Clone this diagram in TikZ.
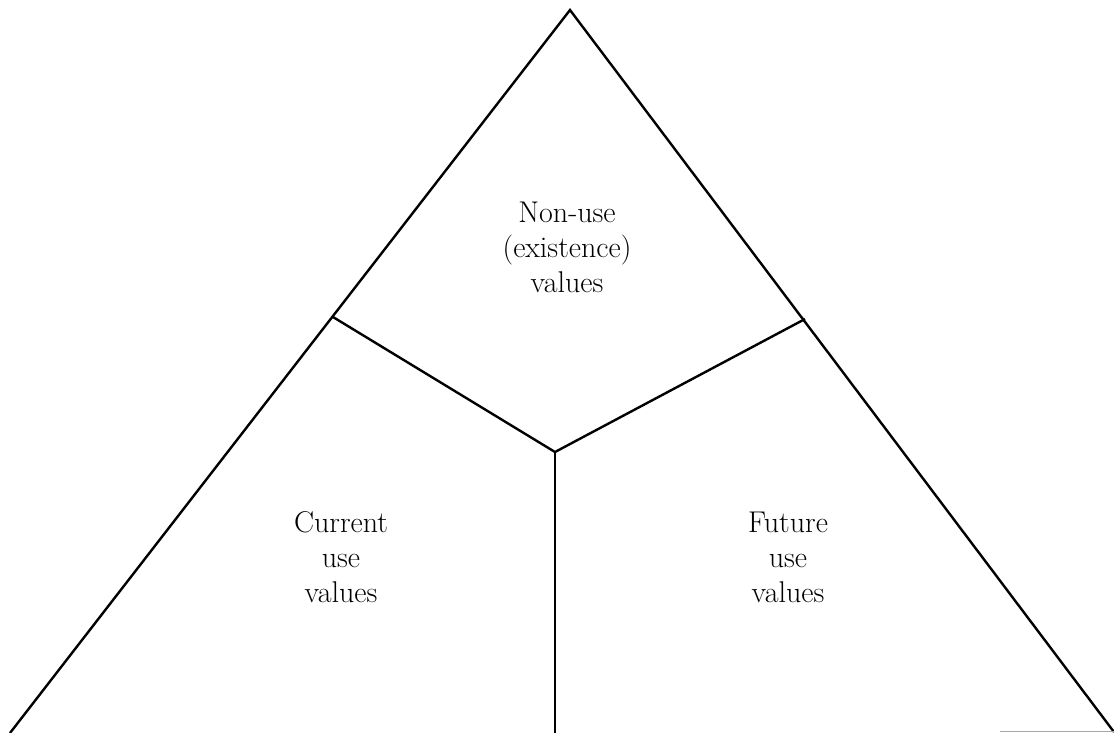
\documentclass[tikz,border=0pt]{standalone}
\begin{document}
\begin{tikzpicture}[x=1pt,y=-1pt,
  edge/.style={line width=2.4pt,line join=miter,black},
  lbl/.style={align=center,font=\fontsize{30}{35}\selectfont,inner sep=0pt}]
\useasboundingbox (0,0) rectangle (1114,732);
\coordinate (apex) at (570,10);
\coordinate (bl) at (10,733);
\coordinate (br) at (1114,732);
\coordinate (lj) at (333,317);
\coordinate (rj) at (805,319);
\coordinate (cj) at (555,452);
\coordinate (cb) at (555,733);
\draw[edge] (bl) -- (apex) -- (br);
\draw[edge] (lj) -- (cj) -- (rj);
\draw[edge] (cj) -- (cb);
\coordinate (g1) at (1000,731);
\coordinate (g2) at (1114,731);
\draw[gray!70,line width=1pt] (g1) -- (g2);
\node[lbl] (nonuse) at (567,247) {Non-use\\(existence)\\values};
\node[lbl] (current) at (341,557) {Current\\use\\values};
\node[lbl] (future) at (788,557) {Future\\use\\values};
\end{tikzpicture}
\end{document}
